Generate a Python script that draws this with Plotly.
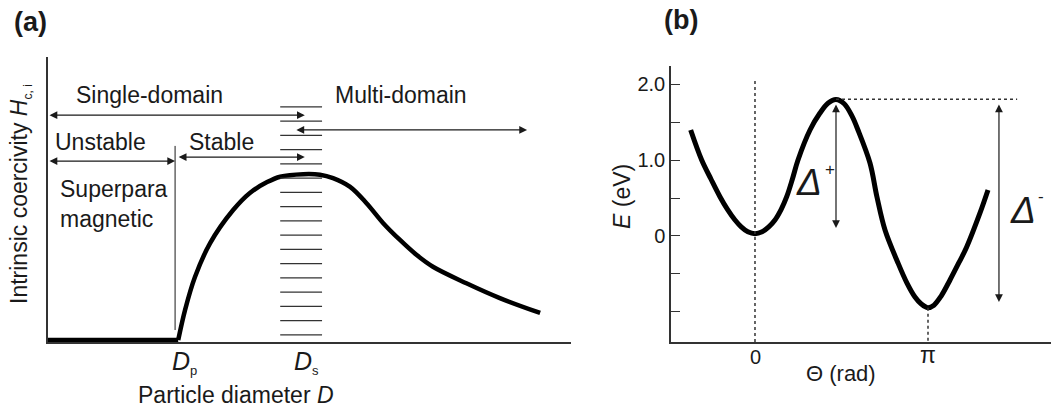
import plotly.graph_objects as go

FONT = "Liberation Sans, Arial, sans-serif"
INK = "#1a1a1a"
AX = "#333333"
W, H = 1051, 412

# ---------------- Panel (a): coercivity vs particle diameter ----------------
diam_flat = [0.0, 2.49]
coerc_flat = [0.07, 0.07]
diam_curve = [2.49, 2.62, 2.81, 3.10, 3.54, 3.86, 4.19, 4.44, 4.88, 5.20, 5.45,
              5.77, 6.09, 6.41, 6.73, 7.05, 7.36, 8.00, 8.64, 9.41]
coerc_curve = [0.07, 1.12, 2.28, 3.47, 4.63, 5.23, 5.61, 5.80, 5.89, 5.87, 5.75,
               5.45, 4.87, 4.17, 3.58, 3.05, 2.64, 2.06, 1.54, 1.02]
d_p = 2.43          # superparamagnetic limit
hatch_x = [4.44, 5.24]
hatch_levels = [0.25, 0.75, 1.25, 1.75, 2.25, 2.75, 3.25, 3.75, 4.25, 4.75,
                5.25, 5.75, 6.25, 6.75, 7.25, 7.75, 8.25]

# ---------------- Panel (b): energy vs angle ----------------
theta = [-1.168, -0.968, -0.800, -0.636, -0.50, -0.363, -0.25, -0.13, 0.0, 0.13, 0.25,
         0.363, 0.476, 0.576, 0.680, 0.781, 0.999, 1.18, 1.33, 1.471, 1.62, 1.760,
         1.870, 2.088, 2.215, 2.361, 2.597, 2.760, 2.905, 3.02, 3.136, 3.25, 3.38,
         3.541, 3.700, 3.844, 4.086, 4.231]
energy = [1.395, 1.0, 0.75, 0.517, 0.35, 0.21, 0.12, 0.055, 0.03, 0.055, 0.12,
          0.21, 0.35, 0.517, 0.75, 1.0, 1.395, 1.618, 1.75, 1.796, 1.74, 1.58,
          1.395, 0.96, 0.513, 0.079, -0.355, -0.62, -0.803, -0.895, -0.943, -0.91, -0.79,
          -0.579, -0.355, -0.145, 0.303, 0.605]
e_max = 1.80
theta_max = 1.471
e_min2 = -0.943
pi_val = 3.14159
y_ticks_b = [-1.0, -0.5, 0.0, 0.5, 1.0, 1.5, 2.0]
y_ticktext_b = ["", "", "0", "", "1.0", "", "2.0"]

fig = go.Figure()

# panel a traces
fig.add_trace(go.Scatter(x=diam_flat, y=coerc_flat, mode="lines",
                         line=dict(color="black", width=4.5), xaxis="x", yaxis="y",
                         showlegend=False, hoverinfo="skip"))
fig.add_trace(go.Scatter(x=diam_curve, y=coerc_curve, mode="lines",
                         line=dict(color="black", width=4.5, shape="spline", smoothing=1.0),
                         xaxis="x", yaxis="y", showlegend=False, hoverinfo="skip"))
hx, hy = [], []
for lv in hatch_levels:
    hx += [hatch_x[0], hatch_x[1], None]
    hy += [lv, lv, None]
fig.add_trace(go.Scatter(x=hx, y=hy, mode="lines", line=dict(color=AX, width=1.2),
                         xaxis="x", yaxis="y", showlegend=False, hoverinfo="skip"))
fig.add_trace(go.Scatter(x=[d_p, d_p], y=[0.42, 6.88], mode="lines",
                         line=dict(color=INK, width=1), xaxis="x", yaxis="y",
                         showlegend=False, hoverinfo="skip"))

# panel b traces
fig.add_trace(go.Scatter(x=theta, y=energy, mode="lines",
                         line=dict(color="black", width=5, shape="spline", smoothing=1.0),
                         xaxis="x2", yaxis="y2", showlegend=False, hoverinfo="skip"))
fig.add_trace(go.Scatter(x=[0, 0], y=[2.04, -1.4], mode="lines",
                         line=dict(color=AX, width=1.5, dash="dot"),
                         xaxis="x2", yaxis="y2", showlegend=False, hoverinfo="skip"))
fig.add_trace(go.Scatter(x=[pi_val, pi_val], y=[e_min2, -1.4], mode="lines",
                         line=dict(color=AX, width=1.5, dash="dot"),
                         xaxis="x2", yaxis="y2", showlegend=False, hoverinfo="skip"))
fig.add_trace(go.Scatter(x=[theta_max, 4.76], y=[e_max, e_max], mode="lines",
                         line=dict(color=AX, width=1.5, dash="dot"),
                         xaxis="x2", yaxis="y2", showlegend=False, hoverinfo="skip"))

ann = []

def arrow(x0, y0, x1, y1, xr, yr):
    ann.append(dict(x=x1, y=y1, ax=x0, ay=y0, xref=xr, yref=yr, axref=xr, ayref=yr,
                    text="", showarrow=True, arrowhead=2, startarrowhead=2,
                    arrowside="end+start", arrowsize=1.3, startarrowsize=1.3,
                    arrowwidth=1.2, arrowcolor=INK, standoff=0, startstandoff=0))

# panel a arrows
arrow(0.0, 7.96, 4.91, 7.96, "x", "y")     # single-domain
arrow(4.72, 7.44, 9.16, 7.44, "x", "y")    # multi-domain
arrow(0.0, 6.35, d_p, 6.35, "x", "y")      # unstable
arrow(2.47, 6.49, 4.91, 6.49, "x", "y")    # stable
# panel b arrows
arrow(theta_max, 1.75, theta_max, 0.105, "x2", "y2")
arrow(4.43, 1.75, 4.43, -0.87, "x2", "y2")

def txt(s, x, y, xr="x", yr="y", size=23, xa="left", ya="middle", angle=0, color=INK, fam=FONT):
    ann.append(dict(text=s, x=x, y=y, xref=xr, yref=yr, xanchor=xa, yanchor=ya,
                    showarrow=False, textangle=angle, align="left",
                    font=dict(family=fam, size=size, color=color)))

def ptxt(s, px, py, **kw):
    txt(s, px / W, (H - py) / H, xr="paper", yr="paper", **kw)

txt("Single-domain", 0.50, 8.67)
txt("Multi-domain", 5.45, 8.67)
txt("Unstable", 0.09, 7.02)
txt("Stable", 2.66, 7.02)
txt("Superpara<br>magnetic", 0.19, 4.84)
ptxt("<i>D</i><sub><span style='font-size:13px'>p</span></sub>", 184, 362, size=25, xa="center")
ptxt("<i>D</i><sub><span style='font-size:13px'>s</span></sub>", 306, 362, size=25, xa="center")
ptxt("Particle diameter <i>D</i>", 236, 395, xa="center")
ptxt("Intrinsic coercivity <i>H</i><sub><span style='font-size:12px'>c, i</span></sub>",
     20, 194, xa="center", angle=-90)
ptxt("<b>(a)</b>", 12, 22, size=27)
ptxt("<b>(b)</b>", 662, 20, size=27)
ptxt("<i>E</i> (eV)", 622, 197, xa="center", angle=-90)
ptxt("Θ (rad)", 841, 373, xa="center", size=22)
ptxt("0", 755, 357, xa="center", size=20)
ptxt("π", 928, 355, xa="center", size=23)
txt("<i>Δ</i>", 0.98, 0.71, xr="x2", yr="y2", size=37, xa="center")
txt("+", 1.36, 0.88, xr="x2", yr="y2", size=17, xa="center")
txt("<i>Δ</i>", 4.87, 0.34, xr="x2", yr="y2", size=37, xa="center")
txt("-", 5.19, 0.52, xr="x2", yr="y2", size=17, xa="center")

fig.update_layout(
    width=W, height=H,
    margin=dict(l=0, r=0, t=0, b=0),
    paper_bgcolor="white", plot_bgcolor="white",
    font=dict(family=FONT, color=INK),
    annotations=ann,
    xaxis=dict(domain=[48 / W, 571 / W], range=[0, 10], showgrid=False, zeroline=False,
               showline=True, linecolor=AX, linewidth=1.5, showticklabels=False, ticks=""),
    yaxis=dict(domain=[70 / H, 355 / H], range=[0, 10], showgrid=False, zeroline=False,
               showline=True, linecolor=AX, linewidth=1.5, showticklabels=False, ticks=""),
    xaxis2=dict(domain=[671 / W, 1.0], range=[-1.525, 5.375], anchor="y2",
                showgrid=False, zeroline=False, showline=True, linecolor=AX, linewidth=1.5,
                showticklabels=False, ticks=""),
    yaxis2=dict(domain=[70 / H, 346 / H], range=[-1.395, 2.237], anchor="x2",
                showgrid=False, zeroline=False, showline=True, linecolor=AX, linewidth=1.5,
                tickvals=y_ticks_b, ticktext=y_ticktext_b, ticks="inside", ticklen=9,
                tickwidth=1.2, tickcolor=AX,
                tickfont=dict(family=FONT, size=20, color=INK)),
)

fig.write_html("out.html")
